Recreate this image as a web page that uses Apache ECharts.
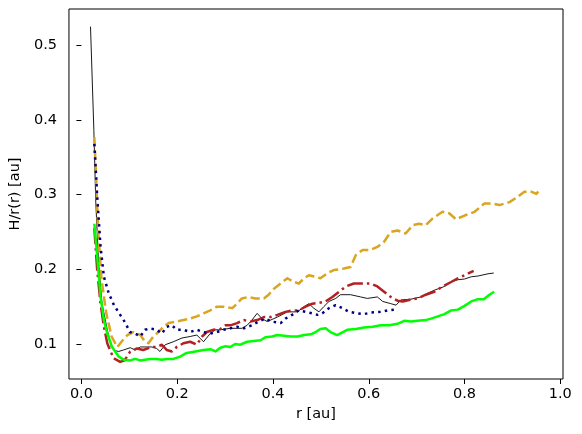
<!DOCTYPE html>
<html>
<head>
<meta charset="utf-8">
<script src="https://cdn.jsdelivr.net/npm/echarts@6/dist/echarts.min.js"></script>
<style>
  html, body { margin: 0; padding: 0; background: #fff; }
  #chart { width: 582px; height: 434px; }
</style>
</head>
<body>
<div id="chart"></div>
<script>
// tick labels
var xTicks = [0.0, 0.2, 0.4, 0.6, 0.8, 1.0];
var yTicks = [0.1, 0.2, 0.3, 0.4, 0.5];

// [r, H/r] per curve
var blackLine = [
  [0.019,0.525],[0.026,0.386],[0.030,0.290],[0.036,0.208],[0.043,0.154],[0.054,0.119],
  [0.063,0.095],[0.070,0.091],[0.078,0.090],[0.088,0.092],[0.102,0.095],[0.112,0.092],
  [0.123,0.096],[0.133,0.096],[0.147,0.096],[0.157,0.094],[0.164,0.090],[0.175,0.099],
  [0.192,0.103],[0.210,0.108],[0.227,0.110],[0.241,0.112],[0.255,0.103],[0.269,0.114],
  [0.280,0.119],[0.290,0.119],[0.311,0.121],[0.335,0.121],[0.346,0.125],[0.356,0.132],
  [0.367,0.141],[0.377,0.134],[0.388,0.130],[0.409,0.136],[0.430,0.143],[0.451,0.143],
  [0.465,0.150],[0.475,0.154],[0.485,0.148],[0.496,0.143],[0.506,0.150],[0.517,0.157],
  [0.531,0.161],[0.541,0.166],[0.562,0.166],[0.583,0.163],[0.597,0.161],[0.618,0.163],
  [0.629,0.157],[0.646,0.154],[0.657,0.152],[0.667,0.159],[0.688,0.160],[0.709,0.163],
  [0.723,0.168],[0.737,0.172],[0.758,0.177],[0.772,0.183],[0.786,0.186],[0.800,0.187],
  [0.814,0.190],[0.828,0.191],[0.849,0.194],[0.861,0.195]
];
var goldLine = [
  [0.027,0.377],[0.031,0.319],[0.035,0.252],[0.042,0.186],[0.052,0.141],[0.063,0.110],
  [0.075,0.096],[0.085,0.104],[0.096,0.112],[0.108,0.116],[0.123,0.112],[0.133,0.103],
  [0.140,0.101],[0.150,0.110],[0.161,0.116],[0.171,0.123],[0.182,0.128],[0.199,0.130],
  [0.213,0.132],[0.227,0.134],[0.241,0.137],[0.255,0.141],[0.269,0.145],[0.283,0.150],
  [0.297,0.150],[0.315,0.148],[0.325,0.154],[0.335,0.161],[0.349,0.163],[0.363,0.161],
  [0.381,0.161],[0.391,0.166],[0.402,0.174],[0.416,0.181],[0.430,0.188],[0.444,0.183],
  [0.454,0.181],[0.465,0.188],[0.475,0.192],[0.489,0.190],[0.499,0.188],[0.514,0.195],
  [0.527,0.199],[0.548,0.201],[0.562,0.203],[0.573,0.219],[0.587,0.226],[0.604,0.226],
  [0.618,0.230],[0.632,0.237],[0.646,0.250],[0.660,0.252],[0.677,0.248],[0.692,0.259],
  [0.705,0.261],[0.719,0.259],[0.733,0.268],[0.754,0.277],[0.768,0.275],[0.782,0.267],
  [0.800,0.272],[0.821,0.277],[0.841,0.288],[0.859,0.288],[0.873,0.286],[0.894,0.290],
  [0.911,0.297],[0.925,0.304],[0.939,0.304],[0.950,0.301],[0.959,0.308]
];
var redLine = [
  [0.027,0.255],[0.033,0.199],[0.040,0.154],[0.047,0.123],[0.054,0.101],[0.067,0.081],
  [0.081,0.076],[0.090,0.078],[0.102,0.090],[0.116,0.094],[0.129,0.092],[0.147,0.096],
  [0.157,0.096],[0.168,0.099],[0.178,0.092],[0.189,0.090],[0.199,0.096],[0.213,0.101],
  [0.227,0.103],[0.241,0.099],[0.252,0.110],[0.262,0.116],[0.276,0.119],[0.290,0.120],
  [0.301,0.125],[0.311,0.125],[0.325,0.128],[0.339,0.132],[0.353,0.130],[0.367,0.132],
  [0.381,0.136],[0.395,0.136],[0.409,0.139],[0.426,0.143],[0.440,0.145],[0.454,0.145],
  [0.468,0.150],[0.482,0.154],[0.496,0.155],[0.510,0.157],[0.524,0.163],[0.538,0.170],
  [0.552,0.177],[0.569,0.181],[0.590,0.181],[0.604,0.181],[0.618,0.177],[0.632,0.170],
  [0.646,0.163],[0.660,0.158],[0.671,0.157],[0.684,0.159],[0.702,0.161],[0.719,0.166],
  [0.737,0.170],[0.754,0.177],[0.772,0.183],[0.786,0.188],[0.800,0.192],[0.819,0.198]
];
var navyLine = [
  [0.027,0.368],[0.033,0.297],[0.040,0.230],[0.047,0.190],[0.057,0.168],[0.068,0.152],
  [0.081,0.139],[0.092,0.128],[0.101,0.116],[0.112,0.114],[0.123,0.110],[0.133,0.119],
  [0.143,0.121],[0.157,0.119],[0.168,0.114],[0.178,0.123],[0.189,0.125],[0.199,0.119],
  [0.213,0.119],[0.227,0.116],[0.241,0.119],[0.255,0.116],[0.269,0.114],[0.283,0.116],
  [0.297,0.119],[0.311,0.121],[0.325,0.123],[0.339,0.121],[0.356,0.125],[0.370,0.130],
  [0.384,0.134],[0.398,0.130],[0.416,0.128],[0.426,0.134],[0.440,0.139],[0.454,0.145],
  [0.468,0.143],[0.482,0.141],[0.493,0.139],[0.503,0.141],[0.517,0.148],[0.531,0.152],
  [0.545,0.148],[0.559,0.143],[0.576,0.141],[0.590,0.140],[0.604,0.142],[0.625,0.143],
  [0.639,0.145],[0.653,0.146]
];
var limeLine = [
  [0.027,0.261],[0.033,0.217],[0.040,0.163],[0.047,0.132],[0.054,0.114],[0.064,0.096],
  [0.078,0.083],[0.088,0.079],[0.102,0.078],[0.112,0.080],[0.123,0.078],[0.133,0.079],
  [0.143,0.080],[0.157,0.080],[0.168,0.079],[0.178,0.080],[0.192,0.080],[0.206,0.083],
  [0.220,0.088],[0.238,0.090],[0.255,0.092],[0.269,0.093],[0.280,0.090],[0.290,0.095],
  [0.301,0.097],[0.311,0.096],[0.321,0.100],[0.332,0.099],[0.346,0.103],[0.360,0.104],
  [0.374,0.105],[0.384,0.109],[0.398,0.110],[0.409,0.112],[0.423,0.111],[0.437,0.110],
  [0.451,0.110],[0.465,0.112],[0.479,0.113],[0.489,0.116],[0.499,0.120],[0.510,0.121],
  [0.520,0.116],[0.534,0.112],[0.555,0.119],[0.573,0.120],[0.590,0.122],[0.608,0.123],
  [0.625,0.125],[0.643,0.125],[0.660,0.127],[0.674,0.131],[0.688,0.130],[0.702,0.131],
  [0.719,0.132],[0.730,0.134],[0.744,0.137],[0.758,0.140],[0.772,0.145],[0.786,0.146],
  [0.800,0.151],[0.814,0.157],[0.828,0.160],[0.840,0.160],[0.852,0.166],[0.862,0.170]
];

var font = 'DejaVu Sans';
var chart = echarts.init(document.getElementById('chart'), null, { renderer: 'canvas' });

function curve(data, color, width, dash) {
  return {
    type: 'line',
    data: data,
    showSymbol: false,
    symbol: 'none',
    clip: true,
    lineStyle: { color: color, width: width, type: dash, cap: 'butt', join: 'round' }
  };
}

chart.setOption({
  animation: false,
  backgroundColor: '#fff',
  grid: {
    left: 68, top: 9, width: 495, height: 370,
    show: true, borderColor: '#000', borderWidth: 1, backgroundColor: 'transparent'
  },
  xAxis: {
    type: 'value',
    min: -0.026, max: 1.0056,
    name: 'r [au]',
    nameLocation: 'middle',
    nameGap: 28,
    nameTextStyle: { fontFamily: font, fontSize: 14.5, color: '#000' },
    axisLine: { show: false },
    splitLine: { show: false },
    axisTick: { customValues: xTicks, length: 5, lineStyle: { color: '#000', width: 1 } },
    axisLabel: {
      customValues: xTicks, margin: 8, fontFamily: font, fontSize: 14.5, color: '#000',
      formatter: function (v) { return v.toFixed(1); }
    }
  },
  yAxis: {
    type: 'value',
    min: 0.0531, max: 0.5486,
    name: 'H/r(r) [au]',
    nameLocation: 'middle',
    nameGap: 44,
    nameRotate: 90,
    nameTextStyle: { fontFamily: font, fontSize: 14.5, color: '#000' },
    axisLine: { show: false },
    splitLine: { show: false },
    axisTick: { customValues: yTicks, length: 5, lineStyle: { color: '#000', width: 1 } },
    axisLabel: {
      customValues: yTicks, margin: 12, fontFamily: font, fontSize: 14.5, color: '#000',
      formatter: function (v) { return v.toFixed(1); }
    }
  },
  series: [
    curve(blackLine, '#000000', 0.9, 'solid'),
    curve(goldLine, '#DAA520', 2.5, [9.3, 4]),
    curve(redLine, '#B22222', 2.5, [16, 4, 2.5, 4]),
    curve(navyLine, '#000080', 2.5, [2.5, 4.2]),
    curve(limeLine, '#00FF00', 2.5, 'solid')
  ]
});
</script>
</body>
</html>
